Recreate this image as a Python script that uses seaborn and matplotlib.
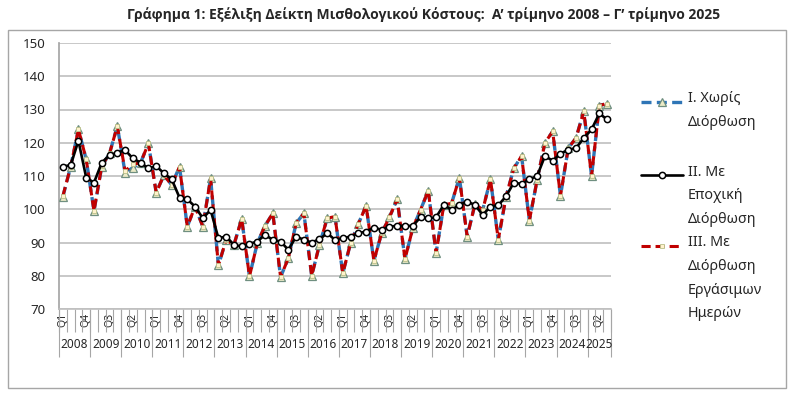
import numpy as np
import pandas as pd
import matplotlib
matplotlib.use("Agg")
import matplotlib.pyplot as plt
from matplotlib.lines import Line2D
from matplotlib.patches import Rectangle
import seaborn as sns

# ---- datos (lectura aproximada del gráfico) ----
anios = [str(a) for a in range(2008, 2026)]
trimestres = ["Q1", "Q2", "Q3", "Q4"]

sin_ajuste = [103.8, 112.8, 124.0, 115.0,
              99.5, 112.8, 116.8, 125.0,
              111.0, 112.5, 114.0, 119.8,
              105.0, 110.3, 107.3, 112.8,
              94.8, 100.8, 94.8, 109.3,
              83.1, 90.8, 89.3, 97.1,
              79.8, 89.8, 95.0, 98.8,
              79.6, 85.3, 95.8, 98.8,
              80.0, 89.3, 97.3, 97.8,
              80.7, 89.8, 95.6, 101.0,
              84.5, 92.8, 97.6, 103.0,
              85.0, 94.3, 99.8, 105.6,
              86.8, 101.3, 101.8, 109.5,
              91.8, 101.5, 99.8, 109.0,
              90.8, 103.8, 112.3, 116.0,
              96.6, 108.8, 120.0, 123.4,
              104.0, 118.4, 121.4, 129.5,
              110.0, 131.2, 131.8]

ajuste_estacional = [112.8, 113.3, 120.6, 109.5,
                     108.0, 114.0, 116.3, 117.0,
                     117.8, 115.3, 114.0, 112.3,
                     113.0, 110.8, 109.0, 103.5,
                     103.0, 100.8, 97.3, 99.8,
                     91.3, 91.8, 89.3, 88.8,
                     89.6, 90.3, 92.3, 90.8,
                     90.3, 87.8, 91.8, 90.8,
                     90.0, 91.0, 92.8, 90.8,
                     91.3, 91.8, 92.8, 93.3,
                     94.5, 93.8, 94.8, 95.0,
                     95.0, 95.0, 97.6, 97.3,
                     97.6, 101.3, 99.8, 101.3,
                     102.3, 101.3, 98.3, 100.8,
                     101.2, 103.9, 108.0, 107.6,
                     109.0, 110.0, 116.0, 114.6,
                     116.7, 117.9, 118.4, 121.4,
                     124.0, 128.8, 127.0]

ajuste_laborables = [104.0, 112.8, 124.0, 115.0,
                     99.5, 113.0, 116.8, 125.0,
                     111.5, 113.5, 114.0, 119.8,
                     105.0, 110.3, 107.3, 112.8,
                     94.8, 100.8, 94.8, 109.3,
                     83.1, 90.8, 89.3, 97.1,
                     79.8, 89.8, 95.0, 98.8,
                     79.6, 85.3, 95.8, 98.8,
                     80.0, 89.3, 97.3, 97.8,
                     80.7, 89.8, 95.6, 101.0,
                     84.5, 92.8, 97.6, 103.0,
                     85.0, 94.3, 99.8, 105.6,
                     86.8, 101.3, 101.8, 109.5,
                     91.8, 101.5, 99.8, 109.0,
                     90.8, 103.8, 112.3, 116.0,
                     96.6, 108.8, 120.0, 123.4,
                     104.0, 118.4, 121.4, 129.5,
                     110.0, 131.2, 131.8]

etiquetas = ["I. Χωρίς\nΔιόρθωση",
             "II. Με\nΕποχική\nΔιόρθωση",
             "III. Με\nΔιόρθωση\nΕργάσιμων\nΗμερών"]

n = len(sin_ajuste)
cats = [(anios[i // 4], trimestres[i % 4]) for i in range(n)]
df = pd.DataFrame({
    "pos": np.arange(n),
    "anio": [c[0] for c in cats],
    "trim": [c[1] for c in cats],
    "I": sin_ajuste,
    "II": ajuste_estacional,
    "III": ajuste_laborables,
})

sns.set_theme(style="white")
plt.rcParams["font.family"] = ["Noto Sans", "DejaVu Sans"]

fig = plt.figure(figsize=(8, 3.96), dpi=100)
ax = fig.add_axes([59 / 800, 87 / 396, 552 / 800, 266 / 396])

estilo = {
    "I": dict(color="#2E75B6", linestyle=(0, (3, 1.6)), linewidth=2.4,
              marker="^", markersize=5.5, markerfacecolor="#ECEBC6",
              markeredgecolor="#6F8F80", markeredgewidth=0.9, zorder=3),
    "II": dict(color="black", linestyle="-", linewidth=1.9,
               marker="o", markersize=4.5, markerfacecolor="white",
               markeredgecolor="black", markeredgewidth=1.1, zorder=5),
    "III": dict(color="#C00000", linestyle=(0, (3, 1.6)), linewidth=2.2,
                marker="s", markersize=2.5, markerfacecolor="#FFF2CC",
                markeredgecolor="#B9C08A", markeredgewidth=0.6, zorder=4),
}

for col in ["I", "III", "II"]:
    sns.lineplot(data=df, x="pos", y=col, ax=ax, legend=False, **estilo[col])

# ejes
ax.set_xlim(-0.5, n - 0.5)
ax.set_ylim(70, 150)
ax.set_yticks(range(70, 151, 10))
ax.yaxis.grid(True, color="#BFBFBF", linewidth=1.2)
ax.set_axisbelow(True)
ax.set_xlabel("")
ax.set_ylabel("")
for s in ["top", "right"]:
    ax.spines[s].set_visible(False)
ax.spines["left"].set_color("#A6A6A6")
ax.spines["bottom"].set_color("#BFBFBF")
ax.spines["bottom"].set_linewidth(1.2)
ax.tick_params(axis="y", length=0, pad=10, labelsize=9.5, labelcolor="#262626")

# etiquetas de trimestre (una de cada tres)
ax.set_xticks(df["pos"])
ax.set_xticklabels([t if i % 3 == 0 else "" for i, t in enumerate(df["trim"])],
                   rotation=90, fontsize=7.5, color="#262626")
ax.tick_params(axis="x", length=0, pad=3)

trans = ax.get_xaxis_transform()
limites = np.arange(n + 1) - 0.5
ax.vlines(limites, -0.085, 0, transform=trans, colors="#A6A6A6",
          linewidth=0.8, clip_on=False)
inicios = df.groupby("anio")["pos"].min().values
finales = df.groupby("anio")["pos"].max().values
ax.vlines(list(inicios - 0.5) + [n - 0.5], -0.18, 0, transform=trans,
          colors="#A6A6A6", linewidth=0.8, clip_on=False)
for a, ini, fin in zip(anios, inicios, finales):
    ax.text((ini + fin) / 2, -0.135, a, transform=trans, ha="center",
            va="center", fontsize=8.5, color="#262626")

# leyenda manual
ys = [101.7, 175, 245.7]
for col, lab, yp in zip(["I", "II", "III"], etiquetas, ys):
    st = dict(estilo[col])
    st.pop("zorder")
    yf = 1 - yp / 396
    fig.add_artist(Line2D([641 / 800, 662 / 800, 683 / 800], [yf, yf, yf],
                          markevery=[1], **st))
    fig.text(688 / 800, yf + 0.026, lab, ha="left", va="top", fontsize=10.3,
             color="#262626", linespacing=1.78)

# marco exterior y título
fig.add_artist(Rectangle((8 / 800, 8 / 396), 778 / 800, 358 / 396,
                         transform=fig.transFigure, fill=False,
                         edgecolor="#A6A6A6", linewidth=1))
fig.text(0.529, 0.962,
         "Γράφημα 1: Εξέλιξη Δείκτη Μισθολογικού Κόστους:  Α’ τρίμηνο 2008 – Γ’ τρίμηνο 2025",
         ha="center", va="center", fontsize=10, fontweight="bold",
         family=["Open Sans", "DejaVu Sans"])

fig.savefig("out.png", dpi=100)
